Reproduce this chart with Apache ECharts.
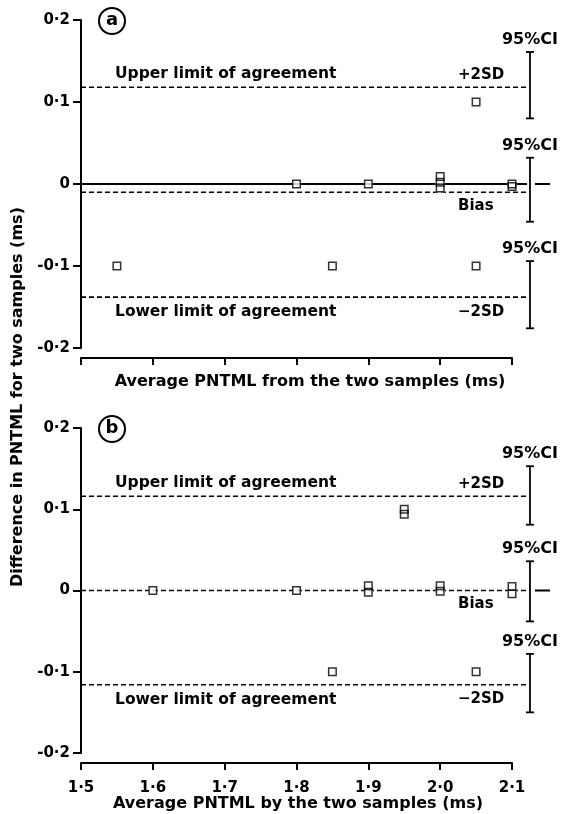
<!DOCTYPE html>
<html>
<head>
<meta charset="utf-8">
<script src="https://cdn.jsdelivr.net/npm/echarts@6/dist/echarts.min.js"></script>
<style>
  html, body { margin: 0; padding: 0; background: #fff; }
  #chart { width: 571px; height: 814px; }
</style>
</head>
<body>
<div id="chart"></div>
<script>
// panel (a): average of two samples vs difference
const aX = [1.55, 1.8, 1.85, 1.9, 2.0, 2.0, 2.0, 2.05, 2.05, 2.1, 2.1]
const aY = [-0.1, 0, -0.1, 0, 0.009, 0.002, -0.005, 0.1, -0.1, 0, -0.003]
// panel (b)
const bX = [1.6, 1.8, 1.85, 1.9, 1.9, 1.95, 1.95, 2.0, 2.0, 2.05, 2.1, 2.1]
const bY = [0, 0, -0.1, 0.006, -0.002, 0.1, 0.094, 0.006, -0.001, -0.1, 0.005, -0.004]

// limits of agreement: upper (+2SD), bias, lower (-2SD)
const aLimits = [0.118, -0.01, -0.138]
const bLimits = [0.116, 0, -0.116]
// 95% CI for each limit [high, low]
const aCI = [[0.161, 0.080], [0.032, -0.046], [-0.094, -0.176]]
const bCI = [[0.153, 0.081], [0.036, -0.038], [-0.078, -0.150]]

const lineStart = 1.5
const lineEnd = 2.121   // the lines run a little past the last tick
const ciX = 2.125
const zeroTick = [2.132, 2.153]

const FONT = 'DejaVu Sans'
const chart = echarts.init(document.getElementById('chart'), null, { renderer: 'canvas' })

const fmt = (v) => (v === 0 ? '0' : v.toFixed(1).replace('.', '·'))

function pts(xs, ys) {
  return xs.map((x, i) => [x, ys[i]])
}

function ciSeries(idx, ci) {
  return {
    type: 'custom',
    xAxisIndex: idx,
    yAxisIndex: idx,
    clip: false,
    silent: true,
    data: ci.map((c) => [ciX, c[0], c[1]]),
    renderItem: function(params, api) {
      const top = api.coord([api.value(0), api.value(1)])
      const bot = api.coord([api.value(0), api.value(2)])
      const st = { stroke: '#000', lineWidth: 1.8 }
      return {
        type: 'group',
        children: [
          { type: 'line', shape: { x1: top[0], y1: top[1], x2: bot[0], y2: bot[1] }, style: st },
          { type: 'line', shape: { x1: top[0] - 4, y1: top[1], x2: top[0] + 4, y2: top[1] }, style: st },
          { type: 'line', shape: { x1: bot[0] - 4, y1: bot[1], x2: bot[0] + 4, y2: bot[1] }, style: st }
        ]
      }
    }
  }
}

// horizontal reference lines: [x0, x1, y]
function hLines(idx, rows, dashed) {
  return {
    type: 'custom',
    xAxisIndex: idx,
    yAxisIndex: idx,
    clip: false,
    silent: true,
    z: 2,
    data: rows,
    renderItem: function(params, api) {
      const p0 = api.coord([api.value(0), api.value(2)])
      const p1 = api.coord([api.value(1), api.value(2)])
      return {
        type: 'line',
        shape: { x1: p0[0], y1: p0[1], x2: p1[0], y2: p1[1] },
        style: { stroke: '#000', lineWidth: dashed ? 1.6 : 2, lineDash: dashed ? [5, 3] : null }
      }
    }
  }
}

function scatter(idx, data) {
  return [
    {
      // white backing so lines break around the squares
      type: 'scatter', xAxisIndex: idx, yAxisIndex: idx, clip: false, silent: true,
      symbol: 'rect', symbolSize: 9,
      itemStyle: { color: '#fff', borderWidth: 0 },
      data: data, z: 3
    },
    {
      type: 'scatter', xAxisIndex: idx, yAxisIndex: idx, clip: false, silent: true,
      symbol: 'rect', symbolSize: 7.5,
      itemStyle: { color: 'rgba(0,0,0,0)', borderColor: '#000', borderWidth: 1.5 },
      data: data, z: 4
    }
  ]
}

function xAxis(idx, showLabels) {
  return {
    type: 'value', gridIndex: idx, min: 1.5, max: 2.1, interval: 0.1,
    offset: 10,
    axisLine: { onZero: false, lineStyle: { color: '#000', width: 2 } },
    axisTick: { length: 7, lineStyle: { color: '#000', width: 2 } },
    axisLabel: { show: showLabels, color: '#000', fontFamily: FONT, fontWeight: 'bold', fontSize: 15, margin: 18, formatter: fmt },
    splitLine: { show: false }
  }
}

function yAxis(idx) {
  return {
    type: 'value', gridIndex: idx, min: -0.2, max: 0.2, interval: 0.1,
    axisLine: { onZero: false, lineStyle: { color: '#000', width: 2 } },
    axisTick: { length: 8, lineStyle: { color: '#000', width: 2 } },
    axisLabel: { color: '#000', fontFamily: FONT, fontWeight: 'bold', fontSize: 15, margin: 11, formatter: fmt },
    splitLine: { show: false }
  }
}

chart.setOption({
  animation: false,
  grid: [
    { left: 81, top: 20, width: 431, height: 328 },
    { left: 81, top: 428, width: 431, height: 325 }
  ],
  xAxis: [xAxis(0, false), xAxis(1, true)],
  yAxis: [yAxis(0), yAxis(1)],
  series: [
    hLines(0, [[lineStart, lineEnd, 0], [zeroTick[0], zeroTick[1], 0]], false),
    hLines(0, aLimits.map((v) => [lineStart, lineEnd, v]), true),
    ciSeries(0, aCI),
    ...scatter(0, pts(aX, aY)),
    hLines(1, [[zeroTick[0], zeroTick[1], 0]], false),
    hLines(1, bLimits.map((v) => [lineStart, lineEnd, v]), true),
    ciSeries(1, bCI),
    ...scatter(1, pts(bX, bY))
  ]
})

// annotations, placed from the axes
function text(str, x, y, align, vAlign, size, extra) {
  return Object.assign({
    type: 'text', x: x, y: y, silent: true,
    style: { text: str, fill: '#000', font: 'bold ' + size + 'px "' + FONT + '"', textAlign: align, textVerticalAlign: vAlign }
  }, extra || {})
}

function panelNotes(idx, limits, ci, letter) {
  const px = (x, y) => chart.convertToPixel({ gridIndex: idx }, [x, y])
  const left = px(1.5, 0)[0]
  const right = px(2.1, 0)[0]
  const top = px(1.5, 0.2)[1]
  const out = []
  out.push(text('Upper limit of agreement', left + 34, px(1.5, limits[0])[1] - 5, 'left', 'bottom', 15.5))
  out.push(text('+2SD', right - 54, px(1.5, limits[0])[1] - 5, 'left', 'bottom', 15))
  out.push(text('Bias', right - 54, px(1.5, limits[1])[1] + 6, 'left', 'top', 15))
  out.push(text('Lower limit of agreement', left + 34, px(1.5, limits[2])[1] + 7, 'left', 'top', 15.5))
  out.push(text('\u22122SD', right - 54, px(1.5, limits[2])[1] + 7, 'left', 'top', 15))
  ci.forEach((c) => {
    const p = px(ciX, c[0])
    out.push(text('95%CI', p[0], p[1] - 4, 'center', 'bottom', 16))
  })
  out.push({ type: 'circle', silent: true, shape: { cx: left + 31, cy: top + 1, r: 13 }, style: { fill: 'none', stroke: '#000', lineWidth: 2 } })
  out.push(text(letter, left + 31, top, 'center', 'middle', 18))
  return out
}

chart.setOption({
  graphic: [
    ...panelNotes(0, aLimits, aCI, 'a'),
    ...panelNotes(1, bLimits, bCI, 'b'),
    text('Average PNTML from the two samples (ms)', 310, 382, 'center', 'middle', 16),
    text('Average PNTML by the two samples (ms)', 298, 804, 'center', 'middle', 16),
    text('Difference in PNTML for two samples (ms)', 18, 397, 'center', 'middle', 16, { rotation: Math.PI / 2 })
  ]
})
</script>
</body>
</html>
